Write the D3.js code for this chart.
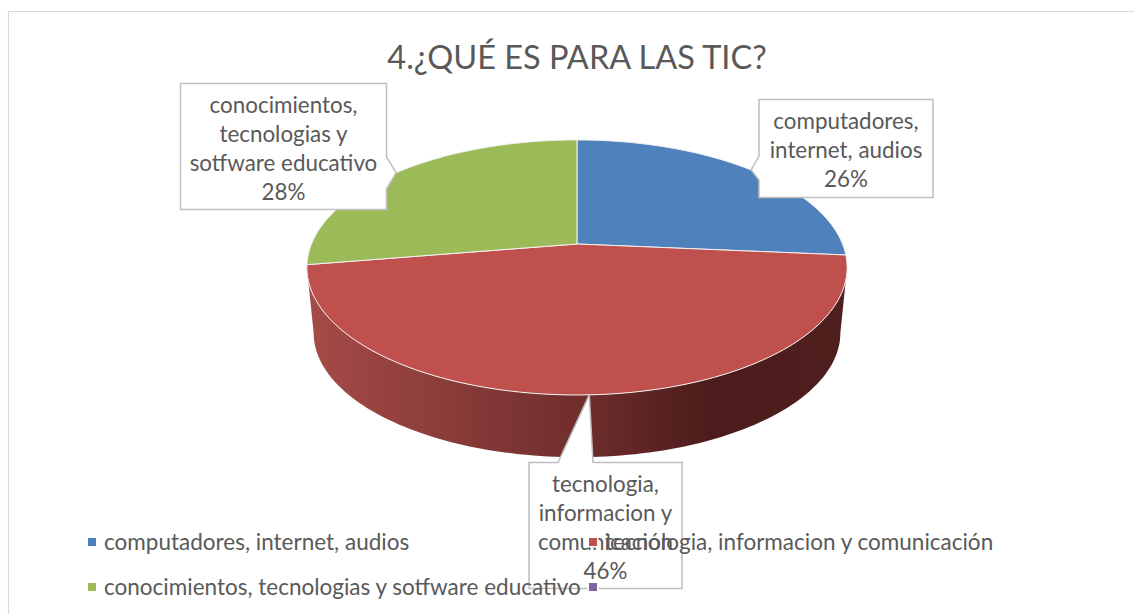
<!DOCTYPE html>
<html>
<head>
<meta charset="utf-8">
<script src="https://cdn.jsdelivr.net/npm/d3@7"></script>
<style>
  html, body { margin: 0; padding: 0; background: #fff; overflow: hidden; }
  svg { display: block; font-family: Lato, "Open Sans", sans-serif; }
</style>
</head>
<body>
<svg id="chart" width="1134" height="614"></svg>
<script>
const title = "4.¿QUÉ ES PARA LAS TIC?";
const categories = [
  "computadores, internet, audios",
  "tecnologia, informacion y comunicación",
  "conocimientos, tecnologias y sotfware educativo",
  ""
];
const values = [26.4, 46, 27.6, 0];
const colors = ["#4f81bd", "#c0504d", "#9bbb59", "#8064a2"];
const labelLines = [
  ["computadores,", "internet, audios"],
  ["tecnologia,", "informacion y", "comunicación"],
  ["conocimientos,", "tecnologias y", "sotfware educativo"]
];

const svg = d3.select("#chart");
const textColor = "#595959";

// frame, only top and left edges are inside the picture
svg.append("path")
  .attr("d", "M8.5,614V11.5H1134")
  .attr("fill", "none")
  .attr("stroke", "#d9d9d9")
  .attr("stroke-width", 1.2);

svg.append("text")
  .attr("x", 577)
  .attr("y", 69)
  .attr("text-anchor", "middle")
  .attr("font-size", 32.5)
  .attr("fill", textColor)
  .text(title);

const pie = d3.pie().sort(null).value(d => d);
const slices = pie(values);

// tilted disc: a circle under a perspective projection
const cx = 577, cy = 244, radius = 265.5, tilt = 123.2, persp = -0.184;
function project(angle, r = 1, drop = 0, shrink = 1) {
  const v = Math.sin(angle) * r;
  const u = -Math.cos(angle) * r;
  const w = 1 + persp * u;
  return [cx + shrink * radius * v / w, cy + drop + shrink * tilt * u / w];
}
const angles = (a0, a1) => d3.range(0, 121).map(i => a0 + (a1 - a0) * i / 120);
const line = d3.line();

const defs = svg.append("defs");
const wallGradient = defs.append("linearGradient")
  .attr("id", "wallGradient")
  .attr("gradientUnits", "userSpaceOnUse")
  .attr("x1", 307).attr("x2", 847)
  .attr("y1", 0).attr("y2", 0);
[[0, "#a64b48"], [0.5, "#702e2c"], [0.75, "#4b1c1b"], [1, "#4f1f1e"]].forEach(s => {
  wallGradient.append("stop").attr("offset", s[0]).attr("stop-color", s[1]);
});

// side wall, runs between the two widest points of the disc
const wallStart = Math.acos(persp);
const wallEnd = 2 * Math.PI - wallStart;
const wallTop = angles(wallStart, wallEnd).map(a => project(a));
const wallBottom = angles(wallStart, wallEnd).map(a => project(a, 1, 66, 0.975)).reverse();
svg.append("path")
  .attr("d", line(wallTop.concat(wallBottom)) + "Z")
  .attr("fill", "url(#wallGradient)");

svg.append("g")
  .selectAll("path")
  .data(slices.filter(d => d.value > 0))
  .join("path")
  .attr("d", d => line([project(0, 0)].concat(angles(d.startAngle, d.endAngle).map(a => project(a)))) + "Z")
  .attr("fill", (d, i) => colors[i])
  .attr("stroke", "#f2f2f2")
  .attr("stroke-width", 1)
  .attr("stroke-linejoin", "round");

// callout boxes, the pointer tip lands on the middle of the slice's rim
const boxes = [
  { x: 759, y: 99.5, w: 174, h: 98, side: "left", a: 156, b: 180, textY: 129 },
  { x: 529, y: 462.5, w: 153, h: 126, side: "top", a: 558, b: 593, textY: 492 },
  { x: 180.5, y: 83.5, w: 206, h: 126, side: "right", a: 157, b: 189, textY: 113 }
];
const lineHeight = 29;

boxes.forEach((b, i) => {
  const d = slices[i];
  const tip = project((d.startAngle + d.endAngle) / 2);
  const right = b.x + b.w, bottom = b.y + b.h;
  let pts;
  if (b.side === "left") {
    pts = [[b.x, b.y], [right, b.y], [right, bottom], [b.x, bottom], [b.x, b.b], tip, [b.x, b.a]];
  } else if (b.side === "top") {
    pts = [[b.x, b.y], [b.a, b.y], tip, [b.b, b.y], [right, b.y], [right, bottom], [b.x, bottom]];
  } else {
    pts = [[b.x, b.y], [right, b.y], [right, b.a], tip, [right, b.b], [right, bottom], [b.x, bottom]];
  }
  svg.append("path")
    .attr("d", line(pts) + "Z")
    .attr("fill", "#fff")
    .attr("stroke", "#bfbfbf")
    .attr("stroke-width", 1.5);

  const pct = d3.format(".0%")(d.value / d3.sum(values));
  const text = svg.append("text")
    .attr("text-anchor", "middle")
    .attr("font-size", 22.4)
    .attr("fill", textColor);
  labelLines[i].concat(pct).forEach((t, j) => {
    text.append("tspan")
      .attr("x", b.x + b.w / 2)
      .attr("y", b.textY + j * lineHeight)
      .text(t);
  });
});

// legend, wraps in two columns
const legendX = d3.scalePoint().domain([0, 1]).range([92, 593]);
const legendY = d3.scalePoint().domain([0, 1]).range([542, 587]);
const legend = svg.append("g")
  .selectAll("g")
  .data(categories)
  .join("g")
  .attr("transform", (d, i) => `translate(${legendX(i % 2)},${legendY(Math.floor(i / 2))})`);
legend.append("rect")
  .attr("x", -4).attr("y", -4)
  .attr("width", 8).attr("height", 8)
  .attr("fill", (d, i) => colors[i])
  .attr("stroke", "#fff")
  .attr("stroke-width", 3)
  .attr("paint-order", "stroke");
legend.append("text")
  .attr("x", 12)
  .attr("y", 8)
  .attr("font-size", 22.5)
  .attr("fill", textColor)
  .text(d => d);
</script>
</body>
</html>
